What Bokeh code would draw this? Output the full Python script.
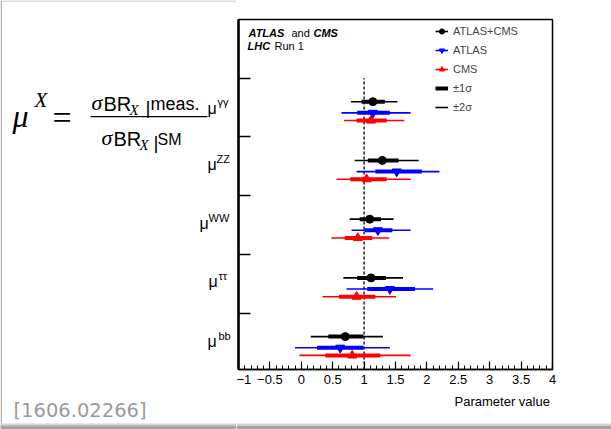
from bokeh.plotting import figure
from bokeh.layouts import row as brow, column as bcol
from bokeh.models import (Range1d, FixedTicker, Label, Legend, LegendItem, LinearAxis,
                          ColumnDataSource, CustomJSTickFormatter)
from bokeh.embed import file_html
from bokeh.resources import INLINE

# ---------------- data ----------------
channels = ["bb", "ττ", "WW", "ZZ", "γγ"]          # bottom to top
row = [0, 1, 2, 3, 4]

comb_val = [0.70, 1.11, 1.09, 1.29, 1.14]
comb_lo1 = [0.43, 0.89, 0.93, 1.06, 0.96]
comb_hi1 = [0.99, 1.35, 1.27, 1.55, 1.33]
comb_lo2 = [0.15, 0.67, 0.77, 0.85, 0.79]
comb_hi2 = [1.30, 1.62, 1.47, 1.87, 1.53]

atlas_val = [0.62, 1.41, 1.22, 1.52, 1.14]
atlas_lo1 = [0.25, 1.05, 1.01, 1.18, 0.89]
atlas_hi1 = [0.99, 1.81, 1.45, 1.92, 1.41]
atlas_lo2 = [-0.10, 0.72, 0.80, 0.88, 0.64]
atlas_hi2 = [1.41, 2.10, 1.74, 2.20, 1.74]

cms_val = [0.81, 0.88, 0.90, 1.04, 1.11]
cms_lo1 = [0.38, 0.60, 0.69, 0.78, 0.88]
cms_hi1 = [1.26, 1.18, 1.13, 1.36, 1.36]
cms_lo2 = [-0.03, 0.34, 0.48, 0.56, 0.68]
cms_hi2 = [1.74, 1.51, 1.40, 1.74, 1.64]

sm_value = [1.0]
x_ticks = [-1, -0.5, 0, 0.5, 1, 1.5, 2, 2.5, 3, 3.5, 4]
x_tick_labels = ["−1", "−0.5", "0", "0.5", "1", "1.5", "2", "2.5", "3", "3.5", "4"]
row_edges = [1, 2, 3, 4, 5]
x_title = "Parameter value"

# ---------------- layout ----------------
W, H = 611, 429
TOPL = 1                    # slide edge line at the top
BAND = 6                    # slide shadow band at the bottom
BS = 18                     # height of the strip under the chart (holds the band)
LW = 236                    # width of the left (formula) panel
RW = W - LW                 # width of the chart column
PH = H - BS - TOPL          # height of the chart figure
FL, FR, FT, FB = 238, 552, 19, 370
SERIF = "Liberation Serif"
SANS = "Liberation Sans"
MID = 0.345                 # em-box middle above the baseline


def plain(fig):
    if "frame_align" in fig.properties():
        fig.frame_align = False
    fig.xgrid.visible = False
    fig.ygrid.visible = False


# ---------------- main chart ----------------
p = figure(width=RW, height=PH, x_range=Range1d(-1, 4), y_range=Range1d(0.04, 6.0),
           output_backend="svg", toolbar_location=None, title=None,
           min_border_left=FL - LW, min_border_right=W - FR,
           min_border_top=FT - TOPL, min_border_bottom=PH + TOPL - FB)
plain(p)
p.background_fill_color = "white"
p.border_fill_color = "white"
p.outline_line_color = "black"
p.outline_line_width = 1.5

xax = p.xaxis[0]
xax.ticker = FixedTicker(ticks=x_ticks, minor_ticks=[round(-1 + 0.1 * i, 2) for i in range(51)])
xax.formatter = CustomJSTickFormatter(args=dict(tvals=x_ticks, tlabels=x_tick_labels), code="""
    for (let i = 0; i < tvals.length; i++) {
        if (Math.abs(tvals[i] - tick) < 1e-6) { return tlabels[i]; }
    }
    return "";
""")
xax.major_tick_in = 8
xax.major_tick_out = 0
xax.minor_tick_in = 4
xax.minor_tick_out = 0
xax.axis_line_width = 1.5
xax.major_tick_line_width = 1.2
xax.minor_tick_line_width = 1
xax.major_label_text_font = SANS
xax.major_label_text_font_size = "13px"
xax.major_label_text_color = "black"
xax.major_label_standoff = 5

# axis title, right-aligned under the axis: a second, tick-less axis carrying it
title_axis = LinearAxis(ticker=FixedTicker(ticks=[3.2], minor_ticks=[]),
                        formatter=CustomJSTickFormatter(args=dict(t=x_title), code="return t;"),
                        axis_line_color=None, major_tick_line_color=None,
                        minor_tick_line_color=None, major_label_standoff=1,
                        major_label_text_font=SANS, major_label_text_font_size="13px",
                        major_label_text_color="black")
p.add_layout(title_axis, "below")

yax = p.yaxis[0]
yax.ticker = FixedTicker(ticks=row_edges, minor_ticks=[])
yax.major_tick_in = 12
yax.major_tick_out = 0
yax.minor_tick_line_color = None
yax.axis_line_width = 2.5
yax.major_tick_line_width = 1.5
yax.major_label_text_font_size = "0px"
yax.major_label_standoff = 0
yax.axis_label_standoff = 0

# SM reference line
p.segment(x0=sm_value, x1=sm_value, y0=[0.04], y1=[5.0],
          line_color="#222222", line_width=1.5, line_dash="3 2")

series = [
    ("ATLAS+CMS", comb_val, comb_lo1, comb_hi1, comb_lo2, comb_hi2, "black", "circle", 8, 0.60),
    ("ATLAS", atlas_val, atlas_lo1, atlas_hi1, atlas_lo2, atlas_hi2, "#0000ff", "inverted_triangle", 9, 0.41),
    ("CMS", cms_val, cms_lo1, cms_hi1, cms_lo2, cms_hi2, "#ff0000", "triangle", 9, 0.28),
]
items = []
sigma_renderers = None
for name, v, l1, h1, l2, h2, col, mk, sz, off in series:
    src = ColumnDataSource(dict(y=[r + off for r in row], v=v, l1=l1, h1=h1, l2=l2, h2=h2))
    thin = p.segment(x0="l2", x1="h2", y0="y", y1="y", source=src, line_color=col, line_width=1.6)
    thick = p.segment(x0="l1", x1="h1", y0="y", y1="y", source=src, line_color=col, line_width=4)
    sc = p.scatter(x="v", y="y", source=src, marker=mk, size=sz, fill_color=col, line_color=col)
    items.append(LegendItem(label=name, renderers=[thin, sc]))
    if sigma_renderers is None:
        sigma_renderers = (thick, thin)

items.append(LegendItem(label="±1σ", renderers=[sigma_renderers[0]]))
items.append(LegendItem(label="±2σ", renderers=[sigma_renderers[1]]))

leg = Legend(items=items, location=(435 - FL, FB - 116.5), margin=0, padding=0, spacing=1,
             glyph_width=13, glyph_height=18, label_height=18, label_standoff=5,
             label_text_font=SANS, label_text_font_size="11px",
             border_line_alpha=0, background_fill_alpha=0)
p.add_layout(leg)


def ptxt(s, x, base, size, style="normal", align="left"):
    y = base - MID * size
    p.add_layout(Label(x=x - FL, y=FB - y, x_units="screen", y_units="screen", text=s,
                       text_font=SANS, text_font_size=f"{size}px", text_font_style=style,
                       text_color="black", text_align=align, text_baseline="middle"))


ptxt("ATLAS", 248, 37, 11, style="bold italic")
ptxt("and", 291, 37, 11)
ptxt("CMS", 313, 37, 11, style="bold italic")
ptxt("LHC", 247, 50.5, 11, style="bold italic")
ptxt("Run 1", 274, 50.5, 11)

# ---------------- left panel: formula and channel labels ----------------
# data coordinates of this panel are the page's pixel coordinates
lf = figure(width=LW, height=H, x_range=Range1d(0, LW), y_range=Range1d(H, 0),
            output_backend="svg", toolbar_location=None, min_border=0, title=None,
            x_axis_location=None, y_axis_location=None)
plain(lf)
lf.outline_line_color = None
lf.background_fill_color = "white"
lf.border_fill_color = "white"


def ltxt(s, x, base, size, font=SANS, style="normal", color="black", align="left"):
    lf.add_layout(Label(x=x, y=base - MID * size, text=s, text_font=font,
                        text_font_size=f"{size}px", text_font_style=style,
                        text_color=color, text_align=align, text_baseline="middle"))


mu_left = [207, 208, 199, 207, 207]
mu_base = [347, 287, 229, 170, 113.5]
sup_dx = [11, 10, 9, 9, 10]
for ch, mx, mb, dx in zip(channels, mu_left, mu_base, sup_dx):
    ltxt("μ", mx, mb, 16)
    ltxt(ch, mx + dx, mb - 8, 11)

ltxt("μ", 12, 127, 32, SERIF, "italic")
ltxt("X", 34, 107, 21, SERIF, "italic")
ltxt("=", 52, 129, 34, SERIF)
ltxt("σ", 91, 110, 22, SERIF, "italic")
ltxt("BR", 103, 110, 20)
ltxt("X", 129, 115, 15, SERIF, "italic")
ltxt("|", 145, 114, 19)
ltxt("meas.", 150, 110, 18)
lf.quad(left=[90], right=[207], top=[115.5], bottom=[116.8], fill_color="black", line_color=None)
ltxt("σ", 101, 145, 22, SERIF, "italic")
ltxt("BR", 113, 145, 20)
ltxt("X", 139, 150, 15, SERIF, "italic")
ltxt("|", 153, 149, 19)
ltxt("SM", 157, 145, 16)

ltxt("[1606.02266]", 13, 417, 19.5, "DejaVu Sans", color="#9b9b9b")

# slide frame inside the left panel: left edge, top edge, bottom shadow
lf.quad(left=[0, 0, 0, 0], right=[1.5, LW, LW, LW],
        top=[0, 0, H - BAND, H - BAND + 2], bottom=[H, TOPL, H - BAND + 2, H],
        fill_color=["#b4b4b4", "#b8b8b8", "#d4d4d4", "#a4a4a4"], line_color=None)


def strip(height):
    s = figure(width=RW, height=height, x_range=Range1d(0, RW), y_range=Range1d(0, height),
               output_backend="svg", toolbar_location=None, min_border=0, title=None,
               x_axis_location=None, y_axis_location=None)
    plain(s)
    s.outline_line_color = None
    s.background_fill_color = "white"
    s.border_fill_color = "white"
    return s


# ---------------- top edge and bottom shadow under the chart ----------------
ts = strip(TOPL)
ts.background_fill_color = "#b8b8b8"
ts.border_fill_color = "#b8b8b8"

bs = strip(BS)
bs.quad(left=[0, 0], right=[RW, RW], bottom=[0, 4], top=[4, BAND],
        fill_color=["#a4a4a4", "#d4d4d4"], line_color=None)

layout = brow(lf, bcol(ts, p, bs))
open("out.html", "w").write(file_html(layout, INLINE))
